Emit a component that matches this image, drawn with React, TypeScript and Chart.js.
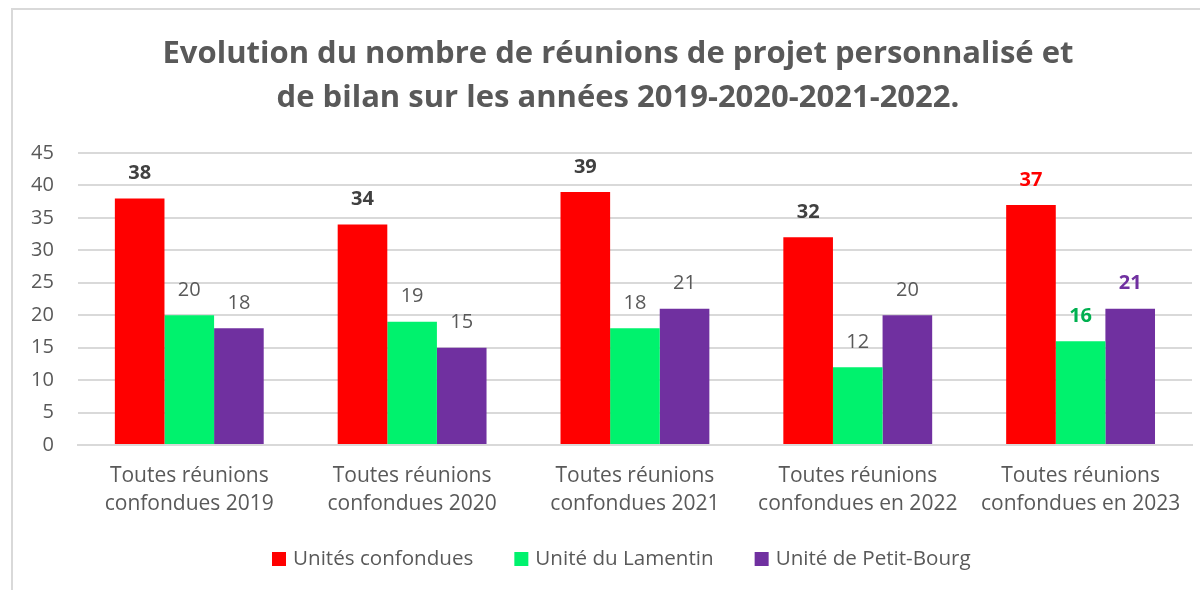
import React, { useEffect, useRef } from "react";
import { Chart, registerables } from "chart.js";

Chart.register(...registerables);

const categories: string[][] = [
  ["Toutes réunions", "confondues 2019"],
  ["Toutes réunions", "confondues 2020"],
  ["Toutes réunions", "confondues 2021"],
  ["Toutes réunions", "confondues en 2022"],
  ["Toutes réunions", "confondues en 2023"],
];
const unitesConfondues = [38, 34, 39, 32, 37];
const uniteLamentin = [20, 19, 18, 12, 16];
const unitePetitBourg = [18, 15, 21, 20, 21];
const seriesNames = ["Unités confondues", "Unité du Lamentin", "Unité de Petit-Bourg"];
const titleLines = [
  "Evolution du nombre de réunions de projet personnalisé et",
  "de bilan sur les années 2019-2020-2021-2022.",
];

const FONT = "'Open Sans', sans-serif";
const GREY = "#595959";
const COLORS = ["#FF0000", "#00F26D", "#7030A0"];

const labelPlugin = {
  id: "valueLabels",
  afterDatasetsDraw(chart: any) {
    const ctx = chart.ctx;
    ctx.save();
    ctx.textAlign = "center";
    ctx.textBaseline = "middle";
    chart.data.datasets.forEach((ds: any, di: number) => {
      const meta = chart.getDatasetMeta(di);
      meta.data.forEach((el: any, i: number) => {
        const last = i === ds.data.length - 1;
        let color = GREY;
        let bold = false;
        if (di === 0) {
          bold = true;
          color = last ? "#FF0000" : "#404040";
        } else if (last) {
          bold = true;
          color = di === 1 ? "#00B050" : "#7030A0";
        }
        ctx.font = `${bold ? "bold " : ""}20px ${FONT}`;
        ctx.fillStyle = color;
        ctx.fillText(String(ds.data[i]), el.x, el.y - 25);
      });
    });
    ctx.restore();
  },
};

const framePlugin = {
  id: "frame",
  beforeDraw(chart: any) {
    const ctx = chart.ctx;
    ctx.save();
    ctx.fillStyle = "#ffffff";
    ctx.fillRect(0, 0, chart.width, chart.height);
    ctx.strokeStyle = "#d9d9d9";
    ctx.lineWidth = 2;
    ctx.beginPath();
    ctx.moveTo(12, chart.height);
    ctx.lineTo(12, 9);
    ctx.lineTo(chart.width, 9);
    ctx.stroke();
    ctx.restore();
  },
  afterDraw(chart: any) {
    const ctx = chart.ctx;
    ctx.save();
    // title
    ctx.fillStyle = GREY;
    ctx.font = `bold 31px ${FONT}`;
    ctx.textAlign = "center";
    ctx.textBaseline = "alphabetic";
    ctx.fillText(titleLines[0], 618, 63);
    ctx.fillText(titleLines[1], 618, 107);
    // legend
    ctx.font = `20.6px ${FONT}`;
    ctx.textAlign = "left";
    ctx.textBaseline = "middle";
    let x = 272;
    const yc = 559;
    chart.data.datasets.forEach((ds: any) => {
      ctx.fillStyle = ds.backgroundColor;
      ctx.fillRect(x, yc - 7, 14, 14);
      ctx.fillStyle = GREY;
      ctx.fillText(ds.label, x + 21, yc);
      x += 21 + ctx.measureText(ds.label).width + 41;
    });
    ctx.restore();
  },
};

export default function App() {
  const ref = useRef<HTMLCanvasElement | null>(null);
  useEffect(() => {
    if (!ref.current) return;
    const chart = new Chart(ref.current, {
      type: "bar",
      data: {
        labels: categories,
        datasets: [unitesConfondues, uniteLamentin, unitePetitBourg].map((d, i) => ({
          label: seriesNames[i],
          data: d,
          backgroundColor: COLORS[i],
          borderWidth: 0,
          categoryPercentage: 0.668,
          barPercentage: 1,
        })),
      },
      options: {
        responsive: false,
        animation: false,
        layout: { padding: { left: 7, right: 8, top: 153, bottom: 63 } },
        plugins: {
          title: { display: false },
          legend: { display: false },
          tooltip: { enabled: false },
        },
        scales: {
          x: {
            grid: { display: false },
            border: { color: "#d9d9d9", width: 2 },
            afterFit(scale: any) {
              scale.paddingLeft = 0;
              scale.paddingRight = 0;
            },
            ticks: {
              color: GREY,
              font: { family: FONT, size: 21, lineHeight: 1.38 },
              padding: 8,
              maxRotation: 0,
              autoSkip: false,
            },
          },
          y: {
            min: 0,
            max: 45,
            ticks: {
              stepSize: 5,
              color: GREY,
              font: { family: FONT, size: 20 },
              padding: 24,
            },
            grid: { color: "#d9d9d9", lineWidth: 2, drawTicks: false },
            border: { display: false },
          },
        },
      },
      plugins: [framePlugin, labelPlugin],
    } as any);
    return () => chart.destroy();
  }, []);
  return (
    <div style={{ position: "absolute", left: 0, top: 0, width: 1200, height: 590 }}>
      <canvas ref={ref} width={1200} height={590} />
    </div>
  );
}
